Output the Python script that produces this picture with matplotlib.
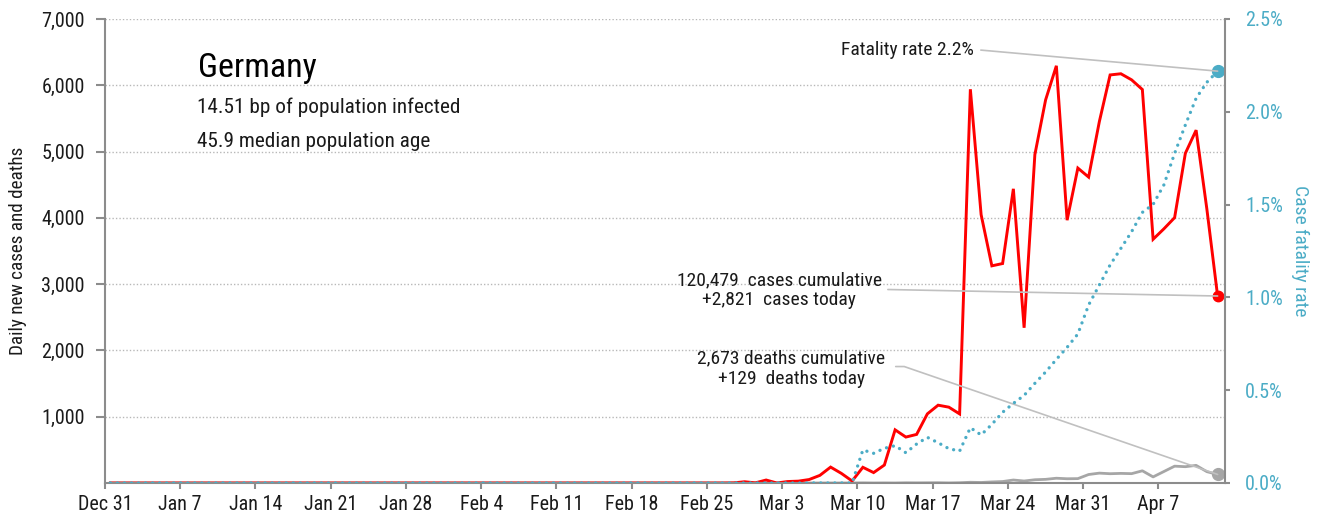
import numpy as np
import pandas as pd
import matplotlib
matplotlib.use("Agg")
import matplotlib.pyplot as plt
import matplotlib.dates as mdates
from matplotlib import font_manager
from matplotlib.ticker import FuncFormatter

names = {f.name for f in font_manager.fontManager.ttflist}
if 'Roboto Condensed' in names:
    plt.rcParams['font.family'] = ['Roboto Condensed', 'DejaVu Sans']
elif 'Liberation Sans Narrow' in names:
    plt.rcParams['font.family'] = ['Liberation Sans Narrow', 'DejaVu Sans']
else:
    plt.rcParams['font.family'] = ['DejaVu Sans']
    plt.rcParams['font.stretch'] = 'condensed'

# daily data, 2019-12-31 .. 2020-04-12
dates = pd.date_range('2019-12-31', '2020-04-12', freq='D')

new_cases = [
    0, 0, 0, 0, 0, 0, 0, 0, 0, 0, 0, 0, 0, 0,
    0, 0, 0, 0, 0, 0, 0, 0, 0, 0, 0, 0, 0, 0,
    0, 0, 0, 0, 0, 0, 0, 0, 0, 0, 0, 0, 0, 0,
    0, 0, 0, 0, 0, 0, 0, 0, 0, 0, 0, 0, 0, 0,
    0, 0, 2, 19, 2, 45, 0, 22, 28, 52, 115, 240, 145, 30,
    237, 157, 271, 802, 693, 733, 1043, 1174, 1144, 1042, 5940, 4049, 3276, 3311,
    4438, 2342, 4954, 5780, 6294, 3965, 4751, 4615, 5453, 6156, 6174, 6082, 5936, 3677,
    3834, 4003, 4974, 5323, 4133, 2821,
]

new_deaths = [
    0, 0, 0, 0, 0, 0, 0, 0, 0, 0, 0, 0, 0, 0,
    0, 0, 0, 0, 0, 0, 0, 0, 0, 0, 0, 0, 0, 0,
    0, 0, 0, 0, 0, 0, 0, 0, 0, 0, 0, 0, 0, 0,
    0, 0, 0, 0, 0, 0, 0, 0, 0, 0, 0, 0, 0, 0,
    0, 0, 0, 0, 0, 0, 0, 0, 0, 0, 0, 0, 0, 0,
    2, 0, 1, 0, 3, 2, 3, 4, 1, 4, 11, 8, 16, 22,
    45, 30, 49, 55, 72, 64, 66, 128, 149, 140, 145, 141, 184, 92,
    173, 254, 246, 266, 171, 129,
]

# case fatality rate, %
fatality = [
    0, 0, 0, 0, 0, 0, 0, 0, 0, 0, 0, 0, 0, 0,
    0, 0, 0, 0, 0, 0, 0, 0, 0, 0, 0, 0, 0, 0,
    0, 0, 0, 0, 0, 0, 0, 0, 0, 0, 0, 0, 0, 0,
    0, 0, 0, 0, 0, 0, 0, 0, 0, 0, 0, 0, 0, 0,
    0, 0, 0, 0, 0, 0, 0, 0, 0, 0, 0, 0, 0, 0,
    0.178, 0.160, 0.187, 0.201, 0.163, 0.210, 0.246, 0.217, 0.185, 0.172, 0.298, 0.259, 0.316, 0.381,
    0.429, 0.472, 0.537, 0.598, 0.666, 0.731, 0.803, 0.959, 1.067, 1.175, 1.264, 1.354, 1.458, 1.501,
    1.606, 1.776, 1.929, 2.073, 2.159, 2.219,
]

RED = '#ff0000'
CYAN = '#4bacc6'
GREY = '#a6a6a6'
SPINE = '#8c8c8c'
TXT = '#1a1a1a'

x = dates + pd.Timedelta(hours=12)

fig = plt.figure(figsize=(13.27, 5.23), dpi=100)
ax = fig.add_axes([105 / 1327, 1 - 483 / 523, 1120 / 1327, 464 / 523])
ax2 = ax.twinx()

ax.plot(x, new_deaths, color=GREY, lw=2.0, solid_joinstyle='round')
ax.plot(x, new_cases, color=RED, lw=2.1, solid_joinstyle='miter')
ax.plot(x[-1], new_cases[-1], 'o', color=RED, ms=7.5)
ax.plot(x[-1], new_deaths[-1], 'o', color=GREY, ms=8.5)

ax2.plot(x, fatality, color=CYAN, lw=2.4, linestyle=(0, (0.01, 2.1)), dash_capstyle='round')
ax2.plot(x[-1], fatality[-1], 'o', color=CYAN, ms=8.5)

ax.set_xlim(pd.Timestamp('2019-12-31'), pd.Timestamp('2020-04-13 04:30'))
ax.set_ylim(0, 7000)
ax2.set_ylim(0, 2.5)

ax.set_xticks(pd.date_range('2019-12-31', '2020-04-07', freq='7D'))
ax.xaxis.set_major_formatter(mdates.DateFormatter('%b %-d'))
ax.set_yticks([1000, 2000, 3000, 4000, 5000, 6000, 7000])
ax.yaxis.set_major_formatter(FuncFormatter(lambda v, p: f'{v:,.0f}'))
ax2.set_yticks([0, 0.5, 1.0, 1.5, 2.0, 2.5])
ax2.yaxis.set_major_formatter(FuncFormatter(lambda v, p: f'{v:.1f}%'))

ax.grid(axis='y', color='#b8b8b8', linestyle=(0, (1, 1.5)), lw=1.0)
ax.set_axisbelow(True)

for a in (ax, ax2):
    a.spines['top'].set_visible(False)
    for s in ('left', 'right', 'bottom'):
        a.spines[s].set_color(SPINE)
        a.spines[s].set_linewidth(1.5)
ax.spines['right'].set_visible(False)
ax2.spines['left'].set_visible(False)
ax2.spines['bottom'].set_visible(False)

ax.tick_params(axis='x', length=4.5, width=1.5, color=SPINE, labelsize=14.5, labelcolor=TXT, pad=4)
ax.tick_params(axis='y', length=6.5, width=1.5, color=SPINE, labelsize=14.5, labelcolor=TXT, pad=8)
ax2.tick_params(axis='y', length=3.6, width=1.5, color=SPINE, labelsize=14.5, labelcolor=CYAN, pad=11)

ax.set_ylabel('Daily new cases and deaths', fontsize=13.8, color=TXT)
ax.yaxis.set_label_coords(-0.07, 0.5)
ax2.set_ylabel('Case fatality rate', fontsize=14, color=CYAN, rotation=270, va='center')
ax2.yaxis.set_label_coords(1.067, 0.5)

ax.text(0.083, 0.874, 'Germany', transform=ax.transAxes, fontsize=24.5, color='black')
ax.text(0.082, 0.798, '14.51 bp of population infected', transform=ax.transAxes, fontsize=15.3, color=TXT)
ax.text(0.082, 0.725, '45.9 median population age', transform=ax.transAxes, fontsize=15.3, color=TXT)

leader = dict(arrowstyle='-', color='#c0c0c0', lw=1.2, shrinkA=0, shrinkB=0)

ax2.text(0.776, 0.933, 'Fatality rate 2.2%', transform=ax.transAxes, ha='right', va='center',
         fontsize=14, color=TXT)
ax2.annotate('', xy=(x[-1], fatality[-1]), xytext=(0.782, 0.933), textcoords='axes fraction',
             arrowprops=leader)

ax.text(0.602, 0.416, '120,479  cases cumulative\n+2,821  cases today', transform=ax.transAxes,
        ha='center', va='center', fontsize=14, color=TXT, linespacing=1.15)
ax.annotate('', xy=(x[-1], new_cases[-1]), xytext=(0.699, 0.417), textcoords='axes fraction',
            arrowprops=leader)

ax.text(0.613, 0.246, '2,673 deaths cumulative\n+129  deaths today', transform=ax.transAxes,
        ha='center', va='center', fontsize=14, color=TXT, linespacing=1.15)
ax.annotate('', xy=(x[-1], new_deaths[-1]), xytext=(0.706, 0.251), textcoords='axes fraction',
            arrowprops=dict(leader, connectionstyle='angle,angleA=0,angleB=-19,rad=0'))

fig.savefig('out.png', dpi=100)
